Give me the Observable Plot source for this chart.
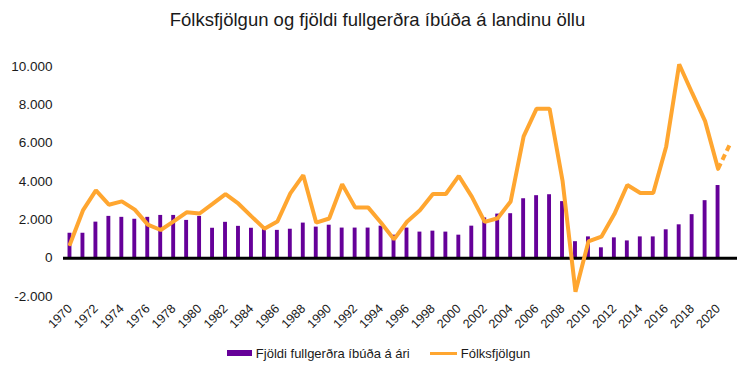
<!DOCTYPE html>
<html>
<head>
<meta charset="utf-8">
<script src="https://cdn.jsdelivr.net/npm/d3@7"></script>
<script src="https://cdn.jsdelivr.net/npm/@observablehq/plot@0.6"></script>
<style>
  body { margin: 0; background: #fff; font-family: "Liberation Sans", Arial, sans-serif; }
  #title { height: 40px; line-height: 40px; text-align: center; font-size: 18.5px; color: #1a1a1a; }
  #legend { display: flex; justify-content: center; align-items: center; height: 36px; font-size: 13px; color: #1a1a1a; padding-left: 2px; }
  .sw { display: inline-block; margin-right: 4px; }
  .item { display: flex; align-items: center; margin: 0 10px; }
</style>
</head>
<body>
<div id="title">Fólksfjölgun og fjöldi fullgerðra íbúða á landinu öllu</div>
<div id="chart"></div>
<div id="legend">
  <div class="item"><span class="sw" style="width:25px;height:6px;background:#660099"></span>Fjöldi fullgerðra íbúða á ári</div>
  <div class="item"><span class="sw" style="width:27px;height:3px;background:#FFA630"></span>Fólksfjölgun</div>
</div>
<script>
// Years
const barYears = d3.range(1970, 2021);
const lineYears = d3.range(1970, 2022);

// Fjöldi fullgerðra íbúða á ári (1970–2020)
const dwellings = [
  1300, 1300, 1880, 2180, 2130, 2030, 2130, 2230, 2230, 1970,
  2180, 1560, 1870, 1660, 1560, 1500, 1450, 1510, 1830, 1620,
  1720, 1570, 1570, 1570, 1670, 1200, 1570, 1360, 1410, 1360,
  1200, 1670, 2100, 2300, 2320, 3100, 3260, 3310, 2950, 860,
  1110, 540, 1060, 900, 1110, 1110, 1480, 1740, 2270, 3000,
  3790
];

// Fólksfjölgun (1970–2021; 2021 is a projection, dashed)
const growth = [
  730, 2490, 3540, 2790, 2960, 2530, 1750, 1470, 1920, 2390,
  2330, 2830, 3340, 2840, 2180, 1540, 1910, 3380, 4330, 1850,
  2070, 3860, 2650, 2650, 1850, 980, 1900, 2500, 3350, 3350,
  4290, 3210, 1890, 2080, 2960, 6350, 7800, 7800, 4050, -1750,
  870, 1120, 2300, 3820, 3400, 3400, 5830, 10120, 8620, 7150,
  4660, 6060
];

const yTicks = [-2000, 0, 2000, 4000, 6000, 8000, 10000];
const xTicks = d3.range(1970, 2021, 2);

const barData = barYears.map((y, i) => ({year: y, value: dwellings[i]}));
const lineData = lineYears.map((y, i) => ({year: y, value: growth[i]}));
const solid = lineData.filter(d => d.year <= 2020);
const dashed = lineData.filter(d => d.year >= 2020);

const locale = d3.formatLocale({decimal: ",", thousands: ".", grouping: [3], currency: ["", ""], minus: "-"});
const fmt = locale.format(",.0f");

const chart = Plot.plot({
  width: 755,
  height: 295,
  marginTop: 26,
  marginBottom: 39,
  marginLeft: 63,
  marginRight: 18,
  style: {fontFamily: "'Liberation Sans', Arial, sans-serif", color: "#1a1a1a", background: "#fff"},
  x: {type: "band", domain: lineYears, paddingInner: 0.7, paddingOuter: 0.35, label: null, ticks: xTicks, tickFormat: d => String(d), tickRotate: -45, tickSize: 0, tickPadding: 10},
  y: {domain: [-2000, 10000], ticks: yTicks, tickFormat: fmt, label: null, tickSize: 0, tickPadding: 11},
  marks: [
    Plot.barY(barData, {x: "year", y: "value", fill: "#660099"}),
    Plot.ruleY([0], {stroke: "#000", strokeWidth: 3}),
    Plot.lineY(solid, {x: "year", y: "value", stroke: "#FFA630", strokeWidth: 4, strokeLinejoin: "miter"}),
    Plot.lineY(dashed, {x: "year", y: "value", stroke: "#FFA630", strokeWidth: 4, strokeDasharray: "6 4", strokeLinecap: "butt"})
  ]
});
chart.querySelectorAll("[aria-label='y-axis tick label'] text, [aria-label='y-axis'] text").forEach(t => t.style.fontSize = "13.5px");
chart.querySelectorAll("[aria-label='x-axis tick label'] text, [aria-label='x-axis'] text").forEach(t => t.style.fontSize = "12.5px");
document.getElementById("chart").appendChild(chart);
</script>
</body>
</html>
